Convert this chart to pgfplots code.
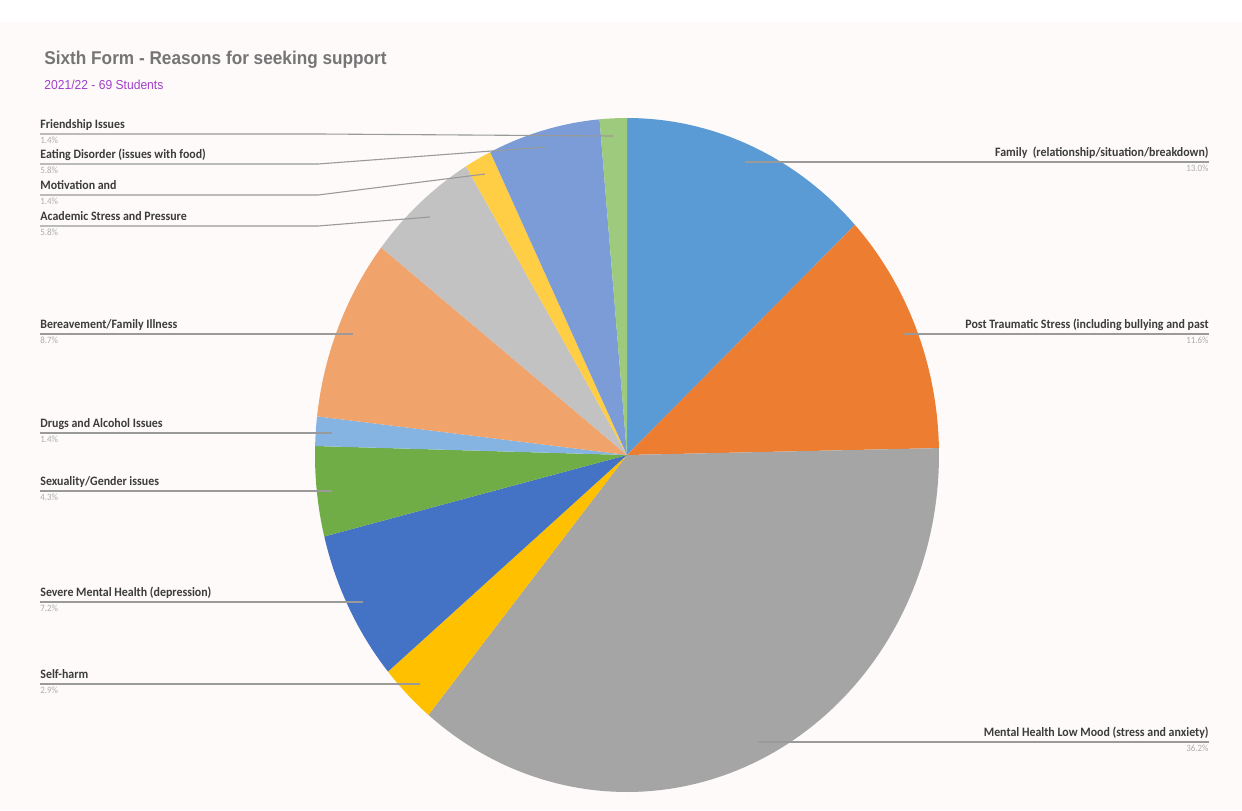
\documentclass[border=0pt]{standalone}
\usepackage{pgfplots}
\pgfplotsset{compat=1.18}
\usepackage{graphicx}
\usepackage{fontspec}
\setmainfont{Liberation Sans}
\newfontfamily\carlito{Carlito}
\definecolor{bgc}{HTML}{FDFAF9}
\definecolor{cFam}{HTML}{5B9BD5}
\definecolor{cPTS}{HTML}{ED7D31}
\definecolor{cMH}{HTML}{A5A5A5}
\definecolor{cSH}{HTML}{FFC000}
\definecolor{cSev}{HTML}{4472C4}
\definecolor{cSex}{HTML}{70AD47}
\definecolor{cDrug}{HTML}{85B4E2}
\definecolor{cBer}{HTML}{F1A36C}
\definecolor{cAca}{HTML}{C2C2C2}
\definecolor{cMot}{HTML}{FFCE45}
\definecolor{cEat}{HTML}{7B9CD6}
\definecolor{cFri}{HTML}{9DCA7D}
\definecolor{labc}{HTML}{3C3C3C}
\definecolor{pctc}{HTML}{ADADAD}
\definecolor{titc}{HTML}{757575}
\definecolor{subc}{HTML}{A23FCB}
\definecolor{leadc}{HTML}{9A9A9A}
\tikzset{leader/.style={draw=leadc, line width=0.55pt}}
\newcommand\lab[1]{\scalebox{0.93}[1]{\fontsize{6.4pt}{7pt}\selectfont\carlito\bfseries\color{labc}#1}}
\newcommand\pct[1]{\scalebox{0.93}[1]{\fontsize{4.8pt}{5pt}\selectfont\carlito\color{pctc}#1\%}}
% slice values (percent of 69 students), clockwise from 12 o'clock
\def\total{99.7}
\def\cum{0}
\newcommand\slice[2]{%
  \pgfmathsetmacro\sa{90-(\cum/\total)*360}%
  \pgfmathsetmacro\newcum{\cum+#1}%
  \xdef\cum{\newcum}%
  \pgfmathsetmacro\sb{90-(\cum/\total)*360}%
  \edef\tmp{\noexpand\addplot[fill=#2,draw=none,domain=\sb:\sa,samples=90] ({627+312*cos(x)},{455-337*sin(x)}) -- (axis cs:627,455) -- cycle;}\tmp
}
\begin{document}
\begin{tikzpicture}
\begin{axis}[
  scale only axis, width=621pt, height=405pt,
  xmin=0, xmax=1242, ymin=0, ymax=810, y dir=reverse,
  hide axis, clip=false,
]
\fill[white] (axis cs:0,0) rectangle (axis cs:1242,22);
\fill[bgc] (axis cs:0,22) rectangle (axis cs:1242,810);
\slice{13.0}{cFam}
\slice{11.6}{cPTS}
\slice{36.2}{cMH}
\slice{2.9}{cSH}
\slice{7.2}{cSev}
\slice{4.3}{cSex}
\slice{1.4}{cDrug}
\slice{8.7}{cBer}
\slice{5.8}{cAca}
\slice{1.4}{cMot}
\slice{5.8}{cEat}
\slice{1.4}{cFri}
% title
\node[anchor=base west, inner sep=0] at (axis cs:44,64) {\scalebox{0.93}[1]{\fontsize{9.25pt}{10pt}\selectfont\bfseries\color{titc}Sixth Form - Reasons for seeking support}};
\node[anchor=base west, inner sep=0] at (axis cs:44,89) {\scalebox{0.93}[1]{\fontsize{6.5pt}{7pt}\selectfont\color{subc}2021/22 - 69 Students}};
% leader lines
\draw[leader] (axis cs:40,134) -- (axis cs:320,134) -- (axis cs:613,136);
\draw[leader] (axis cs:40,164) -- (axis cs:318,164) -- (axis cs:545,147);
\draw[leader] (axis cs:40,195) -- (axis cs:318,195) -- (axis cs:485,174);
\draw[leader] (axis cs:40,226) -- (axis cs:318,226) -- (axis cs:430,217);
\draw[leader] (axis cs:40,334) -- (axis cs:353,334);
\draw[leader] (axis cs:40,433) -- (axis cs:332,433);
\draw[leader] (axis cs:40,491) -- (axis cs:332,491);
\draw[leader] (axis cs:40,602) -- (axis cs:363,602);
\draw[leader] (axis cs:40,684) -- (axis cs:420,684);
\draw[leader] (axis cs:745,162) -- (axis cs:1209,162);
\draw[leader] (axis cs:903,334) -- (axis cs:1209,334);
\draw[leader] (axis cs:758,742) -- (axis cs:1209,742);
% left labels
\node[anchor=base west, inner sep=0] at (axis cs:40,128.5) {\lab{Friendship Issues}};
\node[anchor=base west, inner sep=0] at (axis cs:40,143.5) {\pct{1.4}};
\node[anchor=base west, inner sep=0] at (axis cs:40,158.5) {\lab{Eating Disorder (issues with food)}};
\node[anchor=base west, inner sep=0] at (axis cs:40,173.5) {\pct{5.8}};
\node[anchor=base west, inner sep=0] at (axis cs:40,189.5) {\lab{Motivation and}};
\node[anchor=base west, inner sep=0] at (axis cs:40,204.5) {\pct{1.4}};
\node[anchor=base west, inner sep=0] at (axis cs:40,220.5) {\lab{Academic Stress and Pressure}};
\node[anchor=base west, inner sep=0] at (axis cs:40,235.5) {\pct{5.8}};
\node[anchor=base west, inner sep=0] at (axis cs:40,328.5) {\lab{Bereavement/Family Illness}};
\node[anchor=base west, inner sep=0] at (axis cs:40,343.5) {\pct{8.7}};
\node[anchor=base west, inner sep=0] at (axis cs:40,427.5) {\lab{Drugs and Alcohol Issues}};
\node[anchor=base west, inner sep=0] at (axis cs:40,442.5) {\pct{1.4}};
\node[anchor=base west, inner sep=0] at (axis cs:40,485.5) {\lab{Sexuality/Gender issues}};
\node[anchor=base west, inner sep=0] at (axis cs:40,500.5) {\pct{4.3}};
\node[anchor=base west, inner sep=0] at (axis cs:40,596.5) {\lab{Severe Mental Health (depression)}};
\node[anchor=base west, inner sep=0] at (axis cs:40,611.5) {\pct{7.2}};
\node[anchor=base west, inner sep=0] at (axis cs:40,678.5) {\lab{Self-harm}};
\node[anchor=base west, inner sep=0] at (axis cs:40,693.5) {\pct{2.9}};
% right labels
\node[anchor=base east, inner sep=0] at (axis cs:1209,156.5) {\lab{Family\ \ (relationship/situation/breakdown)}};
\node[anchor=base east, inner sep=0] at (axis cs:1209,171.5) {\pct{13.0}};
\node[anchor=base east, inner sep=0] at (axis cs:1209,328.5) {\lab{Post Traumatic Stress (including bullying and past}};
\node[anchor=base east, inner sep=0] at (axis cs:1209,343.5) {\pct{11.6}};
\node[anchor=base east, inner sep=0] at (axis cs:1209,736.5) {\lab{Mental Health Low Mood (stress and anxiety)}};
\node[anchor=base east, inner sep=0] at (axis cs:1209,751.5) {\pct{36.2}};
\end{axis}
\end{tikzpicture}
\end{document}
